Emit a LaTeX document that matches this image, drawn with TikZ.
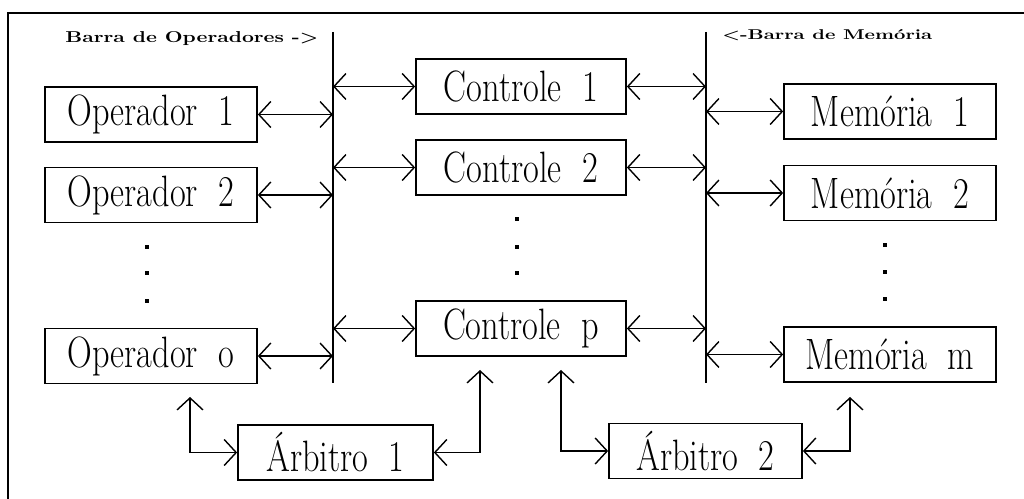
\documentclass[tikz,border=0pt]{standalone}
\usepackage{graphicx}
\usetikzlibrary{arrows.meta}
% labels inside the boxes are set tall and narrow
\newcommand{\lbl}[1]{\scalebox{0.78}[1]{#1}}
\begin{document}
\begin{tikzpicture}[x=0.02cm,y=-0.02cm,
  box/.style={draw, line width=1pt, inner sep=0pt, minimum height=1.1cm,
    font=\fontsize{25}{26}\selectfont},
  bus/.style={line width=1.4pt},
  tip/.tip={Straight Barb[length=0.24cm,width=0.52cm]},
  link/.style={line width=0.8pt, tip-tip},
  dot/.style={fill, rectangle, inner sep=0pt, minimum size=0.07cm},
  head/.style={inner sep=0pt, anchor=base west}]
\useasboundingbox (0,0) rectangle (1024,499);

% frame
\draw[line width=1pt] (1024,13) -- (8,13) -- (8,499);

% bus titles
\node[head] (hop) at (65,43) {\resizebox{5.06cm}{0.22cm}{\bfseries Barra de Operadores ->}};
\node[head] (hmem) at (722,40) {\resizebox{4.2cm}{0.2cm}{\bfseries <-Barra de Memória}};

% buses
\coordinate (busLtop) at (333,32);
\coordinate (busLbot) at (333,383);
\coordinate (busRtop) at (706,32);
\coordinate (busRbot) at (706,383);
\draw[bus] (busLtop) -- (busLbot);
\draw[bus] (busRtop) -- (busRbot);

% operators
\node[box, minimum width=4.24cm] (op1) at (151,114.5) {\lbl{Operador\ \ 1}};
\node[box, minimum width=4.24cm] (op2) at (151,195) {\lbl{Operador\ \ 2}};
\node[box, minimum width=4.24cm] (opo) at (151,356) {\lbl{Operador\ \ o}};
\node[dot] (od1) at (147,247) {};
\node[dot] (od2) at (147,273) {};
\node[dot] (od3) at (147,301) {};

% controllers
\node[box, minimum width=4.2cm] (c1) at (521,86.5) {\lbl{Controle\ \ 1}};
\node[box, minimum width=4.2cm] (c2) at (521,167.5) {\lbl{Controle\ \ 2}};
\node[box, minimum width=4.2cm] (cp) at (521,328.5) {\lbl{Controle\ \ p}};
\node[dot] (cd1) at (517,219) {};
\node[dot] (cd2) at (517,247) {};
\node[dot] (cd3) at (517,273) {};

% memories
\node[box, minimum width=4.24cm] (m1) at (890,111.5) {\lbl{Memória\ \ 1}};
\node[box, minimum width=4.24cm] (m2) at (890,193) {\lbl{Memória\ \ 2}};
\node[box, minimum width=4.24cm] (mm) at (890,354.5) {\lbl{Memória\ \ m}};
\node[dot] (md1) at (885,245) {};
\node[dot] (md2) at (885,272) {};
\node[dot] (md3) at (885,299) {};

% arbiters
\node[box, minimum width=3.9cm] (a1) at (335.5,452.5) {\lbl{Árbitro\ \ 1}};
\node[box, minimum width=3.86cm] (a2) at (705.5,451) {\lbl{Árbitro\ \ 2}};

% operator <-> operator bus
\foreach \n in {op1,op2,opo}
  \draw[link] (\n.east) -- (\n.east -| busLtop);
% operator bus <-> controller <-> memory bus
\foreach \n in {c1,c2,cp} {
  \draw[link] (busLtop |- \n.west) -- (\n.west);
  \draw[link] (\n.east) -- (\n.east -| busRtop);
}
% memory bus <-> memory
\foreach \n in {m1,m2,mm}
  \draw[link] (busRtop |- \n.west) -- (\n.west);

% arbitration lines
\coordinate (t1) at (190,397);
\coordinate (t2) at (480,370);
\coordinate (t3) at (561,370);
\coordinate (t4) at (850,397);
\draw[link] (t1) |- (a1.west);
\draw[link] (t2) |- (a1.east);
\draw[link] (t3) |- (a2.west);
\draw[link] (t4) |- (a2.east);
\end{tikzpicture}
\end{document}
